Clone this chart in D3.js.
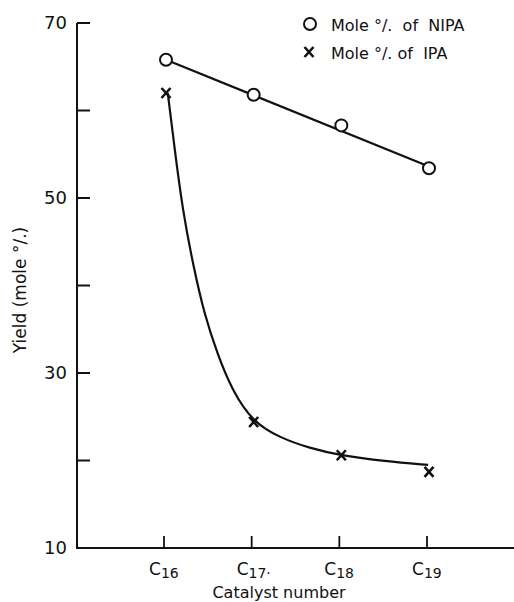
<!DOCTYPE html>
<html>
<head>
<meta charset="utf-8">
<script src="https://cdn.jsdelivr.net/npm/d3@7"></script>
<style>
  body { margin: 0; background: #fff; }
  text { font-family: "DejaVu Sans", sans-serif; fill: #111; }
</style>
</head>
<body>
<div id="chart"></div>
<script>
// Data
var catalysts = [16, 17, 18, 19];
var catalystLabels = ["16", "17", "18", "19"];
var nipaYield = [65.8, 61.8, 58.3, 53.4];
var ipaYield = [62.0, 24.4, 20.6, 18.7];
// straight fit drawn through the NIPA points (end points)
var nipaFitX = [16, 19];
var nipaFitY = [65.8, 53.6];
// hand drawn curve through the IPA points
var ipaCurveX = [16.02, 16.10, 16.19, 16.31, 16.44, 16.59, 16.75, 16.99, 17.30, 17.64, 17.98, 18.50, 18.99];
var ipaCurveY = [62.0, 55.5, 48.6, 42.3, 36.6, 32.1, 28.1, 24.4, 22.6, 21.4, 20.6, 19.9, 19.5];
var yTicks = [10, 20, 30, 40, 50, 60, 70];
var yLabels = [10, 30, 50, 70];

var width = 514, height = 602;

var svg = d3.select("#chart").append("svg")
    .attr("width", width)
    .attr("height", height);

// Scales
var xScale = d3.scaleLinear().domain([16, 19]).range([166, 429]);
var yScale = d3.scaleLinear().domain([10, 70]).range([548, 23]);

var axisX0 = 77;

// y axis line + inward ticks
svg.append("line")
    .attr("x1", axisX0).attr("x2", axisX0)
    .attr("y1", yScale(70)).attr("y2", yScale(10))
    .attr("stroke", "#111").attr("stroke-width", 2);

svg.selectAll(".ytick")
    .data(yTicks.filter(function(d) { return d !== 10; }))
    .enter().append("line")
    .attr("class", "ytick")
    .attr("x1", axisX0).attr("x2", axisX0 + 13)
    .attr("y1", function(d) { return yScale(d); })
    .attr("y2", function(d) { return yScale(d); })
    .attr("stroke", "#111").attr("stroke-width", 2);

svg.selectAll(".ylab")
    .data(yLabels)
    .enter().append("text")
    .attr("class", "ylab")
    .attr("x", 67)
    .attr("y", function(d) { return yScale(d) + 6; })
    .attr("text-anchor", "end")
    .style("font-size", "18px")
    .text(function(d) { return d; });

// x axis line + upward ticks
svg.append("line")
    .attr("x1", axisX0 - 1).attr("x2", width)
    .attr("y1", yScale(10)).attr("y2", yScale(10))
    .attr("stroke", "#111").attr("stroke-width", 2);

svg.selectAll(".xtick")
    .data(catalysts)
    .enter().append("line")
    .attr("class", "xtick")
    .attr("x1", function(d) { return xScale(d) - 2; })
    .attr("x2", function(d) { return xScale(d) - 2; })
    .attr("y1", yScale(10)).attr("y2", yScale(10) - 12)
    .attr("stroke", "#111").attr("stroke-width", 1.8);

var xl = svg.selectAll(".xlab")
    .data(catalysts)
    .enter().append("text")
    .attr("class", "xlab")
    .attr("x", function(d) { return xScale(d) - 17; })
    .attr("y", 575)
    .style("font-size", "17px");
xl.append("tspan").text("C");
xl.append("tspan")
    .attr("dy", 3)
    .style("font-size", "14px")
    .text(function(d, i) { return catalystLabels[i] + (i === 1 ? "·" : ""); });

// axis titles
svg.append("text")
    .attr("x", 279).attr("y", 598)
    .attr("text-anchor", "middle")
    .style("font-size", "16px")
    .text("Catalyst number");

svg.append("text")
    .attr("transform", "translate(26,290)rotate(-90)")
    .attr("text-anchor", "middle")
    .style("font-size", "17px")
    .text("Yield (mole °/.)");

// NIPA fit line
svg.append("path")
    .datum(nipaFitX.map(function(d, i) { return [d, nipaFitY[i]]; }))
    .attr("fill", "none").attr("stroke", "#111").attr("stroke-width", 2.2)
    .attr("d", d3.line()
        .x(function(d) { return xScale(d[0]); })
        .y(function(d) { return yScale(d[1]); }));

// IPA curve
svg.append("path")
    .datum(ipaCurveX.map(function(d, i) { return [d, ipaCurveY[i]]; }))
    .attr("fill", "none").attr("stroke", "#111").attr("stroke-width", 2.2)
    .attr("d", d3.line()
        .curve(d3.curveBasis)
        .x(function(d) { return xScale(d[0]); })
        .y(function(d) { return yScale(d[1]); }));

// NIPA circles
svg.selectAll(".nipa")
    .data(catalysts)
    .enter().append("circle")
    .attr("class", "nipa")
    .attr("cx", function(d) { return xScale(d); })
    .attr("cy", function(d, i) { return yScale(nipaYield[i]); })
    .attr("r", 6)
    .attr("fill", "#fff").attr("stroke", "#111").attr("stroke-width", 2);

// IPA crosses
function cross(g, cx, cy) {
    g.append("path")
        .attr("d", "M" + (cx - 4.5) + "," + (cy - 5) + "L" + (cx + 4.5) + "," + (cy + 5) +
            "M" + (cx + 4.5) + "," + (cy - 5) + "L" + (cx - 4.5) + "," + (cy + 5))
        .attr("stroke", "#111").attr("stroke-width", 2.6).attr("fill", "none");
}
catalysts.forEach(function(d, i) {
    cross(svg, xScale(d), yScale(ipaYield[i]));
});

// Legend
svg.append("circle")
    .attr("cx", 310).attr("cy", 24).attr("r", 6)
    .attr("fill", "#fff").attr("stroke", "#111").attr("stroke-width", 2);
cross(svg, 309, 52);

svg.append("text").attr("x", 331).attr("y", 31)
    .style("font-size", "16px")
    .attr("xml:space", "preserve")
    .text("Mole °/.  of  NIPA");
svg.append("text").attr("x", 331).attr("y", 59)
    .style("font-size", "16px")
    .attr("xml:space", "preserve")
    .text("Mole °/. of  IPA");
</script>
</body>
</html>
